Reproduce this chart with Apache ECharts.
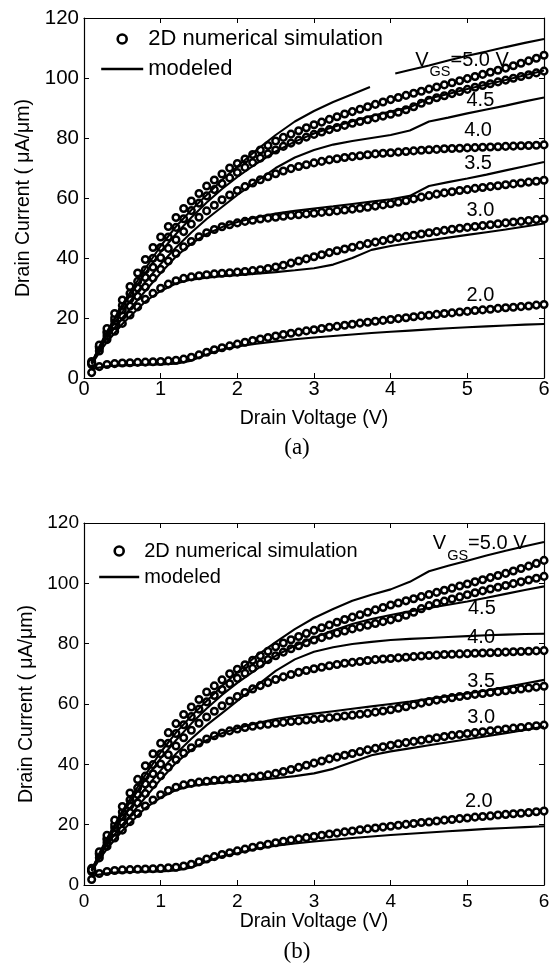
<!DOCTYPE html>
<html><head><meta charset="utf-8">
<script src="https://cdn.jsdelivr.net/npm/echarts@6/dist/echarts.min.js"></script>
<style>html,body{margin:0;padding:0;background:#fff}#c{width:553px;height:969px}</style>
</head><body><div id="c"></div>
<script>
// ---------- data ----------
const X_SIM = [0.1,0.2,0.3,0.4,0.5,0.6,0.7,0.8,0.9,1.0,1.1,1.2,1.3,1.4,1.5,1.6,1.7,1.8,1.9,2.0,
  2.1,2.2,2.3,2.4,2.5,2.6,2.7,2.8,2.9,3.0,3.1,3.2,3.3,3.4,3.5,3.6,3.7,3.8,3.9,4.0,
  4.1,4.2,4.3,4.4,4.5,4.6,4.7,4.8,4.9,5.0,5.1,5.2,5.3,5.4,5.5,5.6,5.7,5.8,5.9,6.0];
const SIM_20 = [1.8,3.8,4.5,4.8,5.0,5.1,5.2,5.3,5.4,5.5,5.7,5.9,6.3,6.9,7.7,8.6,9.4,10.1,10.7,11.3,
  11.9,12.5,13.0,13.5,14.0,14.5,14.9,15.3,15.7,16.1,16.5,16.9,17.2,17.6,17.9,18.3,18.6,18.9,19.2,19.5,
  19.8,20.1,20.4,20.7,20.9,21.2,21.5,21.7,22.0,22.2,22.5,22.7,22.9,23.2,23.4,23.6,23.8,24.0,24.3,24.5];
const SIM_30 = [4.5,9.0,12.8,15.6,18.2,21.0,23.7,26.2,28.2,29.9,31.3,32.4,33.2,33.7,34.1,34.4,34.7,34.9,35.1,35.3,
  35.5,35.8,36.1,36.5,37.0,37.6,38.3,39.0,39.7,40.4,41.1,41.8,42.4,43.0,43.6,44.2,44.8,45.3,45.8,46.3,
  46.8,47.2,47.6,48.0,48.4,48.8,49.2,49.6,49.9,50.2,50.5,50.8,51.1,51.4,51.7,52.0,52.2,52.5,52.8,53.0];
const SIM_35 = [5.0,10.0,14.0,17.5,20.8,24.0,27.2,30.3,33.3,36.2,39.0,41.5,43.7,45.5,47.1,48.4,49.5,50.4,51.1,51.7,
  52.2,52.6,53.0,53.3,53.6,53.9,54.2,54.4,54.7,54.9,55.2,55.4,55.7,56.0,56.3,56.6,56.9,57.3,57.7,58.1,
  58.6,59.1,59.7,60.3,60.8,61.3,61.7,62.1,62.5,62.8,63.2,63.5,63.8,64.1,64.4,64.7,65.0,65.3,65.6,65.9];
const SIM_40 = [5.5,10.5,15.0,19.0,22.7,26.4,30.0,33.5,36.9,40.1,43.2,46.1,48.8,51.3,53.6,55.7,57.6,59.4,61.0,62.5,
  63.8,65.0,66.1,67.1,68.1,69.0,69.8,70.5,71.1,71.7,72.2,72.7,73.1,73.5,73.8,74.1,74.4,74.7,74.9,75.1,
  75.3,75.5,75.7,75.9,76.1,76.2,76.4,76.5,76.6,76.7,76.8,76.9,77.0,77.1,77.2,77.3,77.4,77.5,77.6,77.7];
const SIM_45 = [5.0,10.5,15.5,20.0,24.2,28.2,32.2,36.1,39.9,43.5,47.0,50.2,53.1,55.8,58.3,60.7,62.8,64.8,66.7,68.5,
  70.2,71.8,73.3,74.7,76.0,77.2,78.3,79.3,80.3,81.2,82.0,82.8,83.5,84.2,84.9,85.5,86.1,86.7,87.3,87.9,
  88.6,89.4,90.4,91.6,92.6,93.4,94.1,94.8,95.5,96.2,96.9,97.5,98.1,98.7,99.3,99.9,100.5,101.1,101.7,102.3];
const SIM_50 = [5.0,11.0,16.5,21.5,26.0,30.5,35.0,39.5,43.5,47.0,50.5,53.5,56.5,59.0,61.5,64.0,66.0,68.0,70.0,71.5,
  73.0,74.5,76.0,77.5,79.0,80.2,81.3,82.4,83.4,84.4,85.3,86.2,87.1,88.0,88.8,89.6,90.4,91.2,92.0,92.8,
  93.5,94.2,94.9,95.6,96.3,97.0,97.7,98.4,99.1,99.8,100.5,101.2,101.9,102.6,103.3,104.1,104.9,105.7,106.6,107.6];

const X_MOD = [0.1,0.2,0.3,0.4,0.5,0.6,0.8,1.0,1.2,1.4,1.6,1.8,2.0,2.25,2.5,2.75,3.0,3.25,3.5,3.75,4.0,4.25,4.5,4.75,5.0,5.25,5.5,5.75,6.0];
// chart (a) modeled
const MOD_A_20 = [2.8,3.5,3.9,4.1,4.2,4.3,4.4,4.5,4.8,5.8,7.8,9.5,10.5,11.4,12.2,12.9,13.5,14.0,14.5,15.0,15.4,15.8,16.2,16.6,16.9,17.2,17.5,17.8,18.0];
const MOD_A_30 = [4.5,8.5,12,15,18,20.5,25.5,29,31.5,32.8,33.4,33.9,34.3,34.8,35.3,35.9,36.6,37.8,40.0,42.7,44.0,45.0,45.9,46.8,47.7,48.6,49.5,50.5,51.5];
const MOD_A_35 = [5,9.5,13.3,16.8,20,23,29,35,40.5,44.8,48,50.3,52,53.6,54.8,55.7,56.5,57.2,58.0,58.8,59.6,60.7,64.0,65.3,66.5,67.8,69.2,70.6,72.0];
const MOD_A_40 = [5,10,14.5,18.5,22,25.5,32,38,43.5,48.5,53,57,61,65.5,70,73.5,76,77.8,79,80,81,82.5,85.5,86.8,88.2,89.5,90.8,92.2,93.5];
const MOD_A_45 = [5,10,15,19.5,23.5,27.5,35,42,48,53.5,58.5,63,67,71.5,75.5,78.8,81.5,83.7,85.6,87.3,88.8,90.2,93.2,94.7,96.3,97.8,99.3,100.9,102.5];
const X_MOD_A_50 = [0.1,0.2,0.3,0.4,0.5,0.6,0.8,1.0,1.2,1.4,1.6,1.8,2.0,2.25,2.5,2.75,3.0,3.25,3.5,3.73,3.9,4.06,4.25,4.5,4.75,5.0,5.25,5.5,5.75,6.0];
const MOD_A_50 = [5,10.5,15.5,20,24.5,28.5,36.5,44,50.5,56,61,66,70.5,76,81,85.5,89,92,94.6,97,null,101.5,102.7,104.2,105.8,107.4,108.8,110.3,111.7,113];
// chart (b) modeled
const MOD_B_20 = [2.8,3.5,3.9,4.1,4.2,4.3,4.4,4.5,4.8,5.8,7.8,9.5,10.5,12.0,13.0,13.8,14.4,15.0,15.6,16.1,16.6,17.0,17.4,17.8,18.2,18.6,18.9,19.2,19.5];
const MOD_B_30 = [4.5,8.5,12,15,18,20.5,25.5,29,31.5,32.8,33.4,33.9,34.3,34.8,35.4,36.1,37.0,38.5,40.8,43.0,44.3,45.3,46.3,47.3,48.3,49.3,50.3,51.4,52.5];
const MOD_B_35 = [5,9.5,13.3,16.8,20,23,29,35,40.5,44.8,48,50.3,52,53.6,55.0,56.0,56.8,57.6,58.4,59.2,60.0,60.8,61.7,62.6,63.5,64.5,65.6,66.8,68.0];
const MOD_B_40 = [5,10,14.5,18.5,22,25.5,32,38,43.5,48.5,53,57,61,66,71,74.8,77.3,78.8,79.9,80.6,81.2,81.6,81.9,82.2,82.5,82.8,83.0,83.2,83.3];
const MOD_B_45 = [5,10,15,19.5,23.5,27.5,35,42,48,53.5,58.5,63,67,71.5,76,79.3,82,84.4,86.5,88.2,89.5,90.7,91.8,92.9,94,95.2,96.5,97.8,99];
const MOD_B_50 = [5,10.5,15.5,20,24.5,28.5,36.5,44,50.5,56,61,66,70.5,76,80.5,84.8,88.5,91.5,94.2,96.2,98,100.5,104,105.8,107.5,109.2,110.8,112.3,113.7];

const X_TICKS = [0,1,2,3,4,5,6];
const Y_TICKS = [0,20,40,60,80,100,120];
const CURVE_LABELS = ['2.0','3.0','3.5','4.0','4.5'];
// label anchors in data coordinates
const LABEL_POS_A = [[5.17,27.6],[5.17,55.9],[5.14,71.6],[5.14,82.6],[5.17,92.6]];
const LABEL_POS_B = [[5.15,27.6],[5.18,55.4],[5.18,67.3],[5.18,82.2],[5.19,91.8]];
const VGS_POS_A = [4.32,105.9];
const VGS_POS_B = [4.55,113.1];

// ---------- chart ----------
const FONT = '"Liberation Sans", Arial, Helvetica, sans-serif';
const SERIF = '"Liberation Serif", "DejaVu Serif", serif';
const pairs = (xs, ys) => xs.map((x, i) => [x, ys[i] === null ? '-' : ys[i]]);

function xAx(grid, pos, lbl, fs, margin, name, nameGap) {
  return {
    type: 'value', gridIndex: grid, position: pos, min: 0, max: 6, interval: 1,
    name: name || '', nameLocation: 'middle', nameGap: nameGap || 0,
    nameTextStyle: { fontSize: 19.5, fontFamily: FONT, color: '#000' },
    axisLine: { show: true, onZero: false, lineStyle: { color: '#000', width: 1.2 } },
    axisTick: { show: true, inside: true, length: 5, lineStyle: { color: '#000', width: 1 } },
    axisLabel: { show: lbl, fontSize: fs, fontFamily: FONT, color: '#000', margin: margin,
      showMinLabel: true, showMaxLabel: true, formatter: v => String(v) },
    splitLine: { show: false }
  };
}
function yAx(grid, pos, lbl, fs, name, nameGap) {
  return {
    type: 'value', gridIndex: grid, position: pos, min: 0, max: 120, interval: 20,
    name: name || '', nameLocation: 'middle', nameGap: nameGap || 0,
    nameTextStyle: { fontSize: 19.5, fontFamily: FONT, color: '#000' },
    axisLine: { show: true, onZero: false, lineStyle: { color: '#000', width: 1.2 } },
    axisTick: { show: true, inside: true, length: 5, lineStyle: { color: '#000', width: 1 } },
    axisLabel: { show: lbl, fontSize: fs, fontFamily: FONT, color: '#000', margin: 5,
      showMinLabel: true, showMaxLabel: true },
    splitLine: { show: false }
  };
}

const SIMS = [SIM_20, SIM_30, SIM_35, SIM_40, SIM_45, SIM_50];
const CIRCLE_STYLE = { color: '#fff', borderColor: '#000', borderWidth: 2.5, opacity: 1 };
const series = [];
function addChart(xi, yi, mods, xmods) {
  SIMS.forEach(s => series.push({
    type: 'scatter', name: '2D numerical simulation', xAxisIndex: xi, yAxisIndex: yi,
    data: pairs(X_SIM, s), symbol: 'circle', symbolSize: 6.6, z: 2,
    itemStyle: CIRCLE_STYLE, emphasis: { disabled: true }, silent: true
  }));
  mods.forEach((m, i) => series.push({
    type: 'line', name: 'modeled', xAxisIndex: xi, yAxisIndex: yi,
    data: pairs(xmods[i], m), symbol: 'none', showSymbol: false, connectNulls: false, z: 3,
    lineStyle: { color: '#000', width: 2.1 }, itemStyle: { color: '#000' },
    emphasis: { disabled: true }, silent: true
  }));
}
addChart(0, 0, [MOD_A_20, MOD_A_30, MOD_A_35, MOD_A_40, MOD_A_45, MOD_A_50],
  [X_MOD, X_MOD, X_MOD, X_MOD, X_MOD, X_MOD_A_50]);
addChart(2, 2, [MOD_B_20, MOD_B_30, MOD_B_35, MOD_B_40, MOD_B_45, MOD_B_50],
  [X_MOD, X_MOD, X_MOD, X_MOD, X_MOD, X_MOD]);

function legend(left, top, fs, gap, w) {
  return {
    orient: 'vertical', left: left, top: top, padding: 0, itemGap: gap,
    itemWidth: w, itemHeight: 9, selectedMode: false,
    textStyle: { fontSize: fs, fontFamily: FONT, color: '#000' },
    data: [{ name: '2D numerical simulation', icon: 'circle',
             itemStyle: { color: '#fff', borderColor: '#000', borderWidth: 2.6, opacity: 1 } },
           { name: 'modeled',
             itemStyle: { color: 'rgba(0,0,0,0)', borderWidth: 0, opacity: 0 },
             lineStyle: { color: '#000', width: 2.4, opacity: 1 } }]
  };
}

const option = {
  animation: false,
  backgroundColor: '#fff',
  grid: [
    { left: 84, top: 18, width: 460, height: 360, containLabel: false, outerBoundsMode: 'none' },
    { left: 84, top: 523, width: 460, height: 362, containLabel: false, outerBoundsMode: 'none' }
  ],
  xAxis: [
    xAx(0, 'bottom', true, 20, 1, 'Drain Voltage (V)', 31),
    xAx(0, 'top', false, 20, 0),
    xAx(1, 'bottom', true, 19, 7, 'Drain Voltage (V)', 27),
    xAx(1, 'top', false, 19, 0)
  ],
  yAxis: [
    yAx(0, 'left', true, 20.5, 'Drain Current ( \u03bcA/\u03bcm)', 49),
    yAx(0, 'right', false, 20),
    yAx(1, 'left', true, 19, 'Drain Current ( \u03bcA/\u03bcm)', 46),
    yAx(1, 'right', false, 19)
  ],
  legend: [legend(100, 28, 22, 8, 42), legend(98, 541, 20, 6, 40)],
  series: series
};

const chart = echarts.init(document.getElementById('c'), null, { renderer: 'canvas' });
chart.setOption(option);

const ctx = document.createElement('canvas').getContext('2d');
function tw(t, fs) { ctx.font = fs + 'px ' + FONT; return ctx.measureText(t).width; }

const gfx = [];
function addLabels(xi, yi, posList, vgsPos, fs, sfs, off) {
  CURVE_LABELS.forEach((t, i) => {
    const p = chart.convertToPixel({ xAxisIndex: xi, yAxisIndex: yi }, posList[i]);
    gfx.push({ type: 'text', x: p[0], y: p[1], z: 1, silent: true,
      style: { text: t, fontSize: fs, fontFamily: FONT, fill: '#000', align: 'center', verticalAlign: 'middle' } });
  });
  const p = chart.convertToPixel({ xAxisIndex: xi, yAxisIndex: yi }, vgsPos);
  const w1 = tw('V', fs), w2 = tw('GS', sfs);
  gfx.push({ type: 'text', x: p[0], y: p[1], z: 1, silent: true,
    style: { text: 'V', fontSize: fs, fontFamily: FONT, fill: '#000', align: 'left', verticalAlign: 'middle' } });
  gfx.push({ type: 'text', x: p[0] + w1 + 1, y: p[1] + off, z: 1, silent: true,
    style: { text: 'GS', fontSize: sfs, fontFamily: FONT, fill: '#000', align: 'left', verticalAlign: 'middle' } });
  gfx.push({ type: 'text', x: p[0] + w1 + 1 + w2, y: p[1], z: 1, silent: true,
    style: { text: '=5.0 V', fontSize: fs, fontFamily: FONT, fill: '#000', align: 'left', verticalAlign: 'middle' } });
}
addLabels(0, 0, LABEL_POS_A, VGS_POS_A, 20, 14.5, 12);
addLabels(2, 2, LABEL_POS_B, VGS_POS_B, 20, 14.5, 12);

gfx.push({ type: 'text', x: 297, y: 448, z: 1, silent: true,
  style: { text: '(a)', fontSize: 23, fontFamily: SERIF, fill: '#000', align: 'center', verticalAlign: 'middle' } });
gfx.push({ type: 'text', x: 297, y: 952, z: 1, silent: true,
  style: { text: '(b)', fontSize: 23, fontFamily: SERIF, fill: '#000', align: 'center', verticalAlign: 'middle' } });

chart.setOption({ graphic: gfx });
</script>
</body></html>
